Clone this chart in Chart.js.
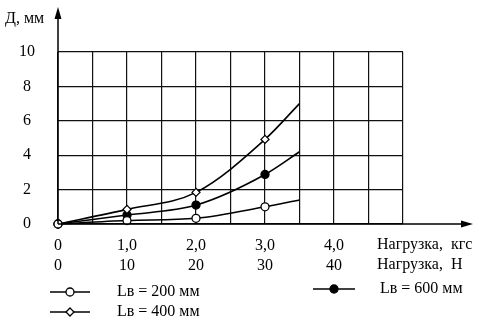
<!DOCTYPE html>
<html>
<head>
<meta charset="utf-8">
<script src="https://cdn.jsdelivr.net/npm/chart.js@4"></script>
<style>
  html, body { margin: 0; padding: 0; background: #fff; }
  #wrap { width: 488px; height: 330px; }
</style>
</head>
<body>
<div id="wrap"><canvas id="chart" width="488" height="330"></canvas></div>
<script>
// load, kgf (last point is the curve end, no marker)
const loadKgf = [0, 1, 2, 3, 3.5];
const defl200 = [0, 0.2, 0.33, 1.0, 1.4];
const defl400 = [0, 0.85, 1.84, 4.92, 7.0];
const defl600 = [0, 0.52, 1.1, 2.88, 4.2];
const markerRadius = [4, 4, 4, 4, 0];

const xTicksKgf = ["0", "1,0", "2,0", "3,0", "4,0"];
const xTicksN = ["0", "10", "20", "30", "40"];
const seriesLabels = ["Lв = 200 мм", "Lв = 400 мм", "Lв = 600 мм"];

const FONT = "Liberation Serif";

function toPoints(ys) {
    return loadKgf.map((x, i) => ({ x: x, y: ys[i] }));
}

const extras = {
    id: "extras",
    afterDraw(chart) {
        const ctx = chart.ctx;
        const xs = chart.scales.x;
        const ys = chart.scales.y;
        const x0 = xs.getPixelForValue(0);
        const y0 = ys.getPixelForValue(0);
        ctx.save();
        ctx.strokeStyle = "#000";
        ctx.fillStyle = "#000";
        ctx.lineWidth = 1.5;
        // axes with arrows
        ctx.beginPath();
        ctx.moveTo(x0, y0);
        ctx.lineTo(x0, 16);
        ctx.moveTo(x0, y0);
        ctx.lineTo(464, y0);
        ctx.stroke();
        ctx.beginPath();
        ctx.moveTo(x0, 7);
        ctx.lineTo(x0 - 3.5, 19);
        ctx.lineTo(x0 + 3.5, 19);
        ctx.closePath();
        ctx.fill();
        ctx.beginPath();
        ctx.moveTo(473, y0);
        ctx.lineTo(461, y0 - 3.5);
        ctx.lineTo(461, y0 + 3.5);
        ctx.closePath();
        ctx.fill();

        ctx.font = "16px " + FONT;
        ctx.textBaseline = "middle";
        ctx.textAlign = "left";
        ctx.fillText("Д, мм", 5, 19);
        ctx.fillText("Нагрузка,  кгс", 377, 245);
        ctx.fillText("Нагрузка,  Н", 377, 265);

        // legend
        const spots = [
            { x1: 50, x2: 90, tx: 117, y: 292 },
            { x1: 50, x2: 90, tx: 117, y: 312 },
            { x1: 313, x2: 355, tx: 380, y: 289 }
        ];
        chart.data.datasets.forEach((ds, i) => {
            const s = spots[i];
            const cx = (s.x1 + s.x2) / 2;
            ctx.lineWidth = 1.5;
            ctx.strokeStyle = "#000";
            ctx.beginPath();
            ctx.moveTo(s.x1, s.y);
            ctx.lineTo(s.x2, s.y);
            ctx.stroke();
            ctx.fillStyle = ds.pointBackgroundColor;
            ctx.lineWidth = 1.3;
            ctx.beginPath();
            if (ds.pointStyle === "rectRot") {
                ctx.moveTo(cx, s.y - 4);
                ctx.lineTo(cx + 4, s.y);
                ctx.lineTo(cx, s.y + 4);
                ctx.lineTo(cx - 4, s.y);
                ctx.closePath();
            } else {
                ctx.arc(cx, s.y, 4, 0, Math.PI * 2);
            }
            ctx.fill();
            ctx.stroke();
            ctx.fillStyle = "#000";
            ctx.font = "16px " + FONT;
            ctx.fillText(ds.label, s.tx, s.y);
        });
        ctx.restore();
    }
};

function series(label, ys, style, fill) {
    return {
        label: label,
        data: toPoints(ys),
        borderColor: "#000",
        borderWidth: 1.6,
        pointStyle: style,
        pointRadius: markerRadius,
        pointBackgroundColor: fill,
        pointBorderColor: "#000",
        pointBorderWidth: 1.3,
        cubicInterpolationMode: "monotone",
        clip: false
    };
}

new Chart(document.getElementById("chart"), {
    type: "line",
    data: {
        datasets: [
            series(seriesLabels[0], defl200, "circle", "#fff"),
            series(seriesLabels[1], defl400, "rectRot", "#fff"),
            series(seriesLabels[2], defl600, "circle", "#000")
        ]
    },
    options: {
        responsive: false,
        animation: false,
        events: [],
        layout: { padding: { left: 0, right: 85, top: 52, bottom: 0 } },
        plugins: { legend: { display: false }, tooltip: { enabled: false } },
        scales: {
            x: {
                type: "linear",
                min: 0,
                max: 5,
                afterFit(scale) { scale.height = 106; },
                border: { display: false },
                grid: { color: "#111", lineWidth: 1.2, drawTicks: false },
                ticks: {
                    stepSize: 0.5,
                    autoSkip: false,
                    maxRotation: 0,
                    padding: 12,
                    color: "#000",
                    font: { family: FONT, size: 16, lineHeight: 1.25 },
                    callback(v) {
                        if (Number.isInteger(v) && v < xTicksKgf.length) {
                            return [xTicksKgf[v], xTicksN[v]];
                        }
                        return "";
                    }
                }
            },
            y: {
                min: 0,
                max: 10,
                afterFit(scale) { scale.width = 58; },
                border: { display: false },
                grid: { color: "#111", lineWidth: 1.2, drawTicks: false },
                ticks: {
                    stepSize: 2,
                    crossAlign: "center",
                    padding: 23,
                    color: "#000",
                    font: { family: FONT, size: 16 }
                }
            }
        }
    },
    plugins: [extras]
});
</script>
</body>
</html>
